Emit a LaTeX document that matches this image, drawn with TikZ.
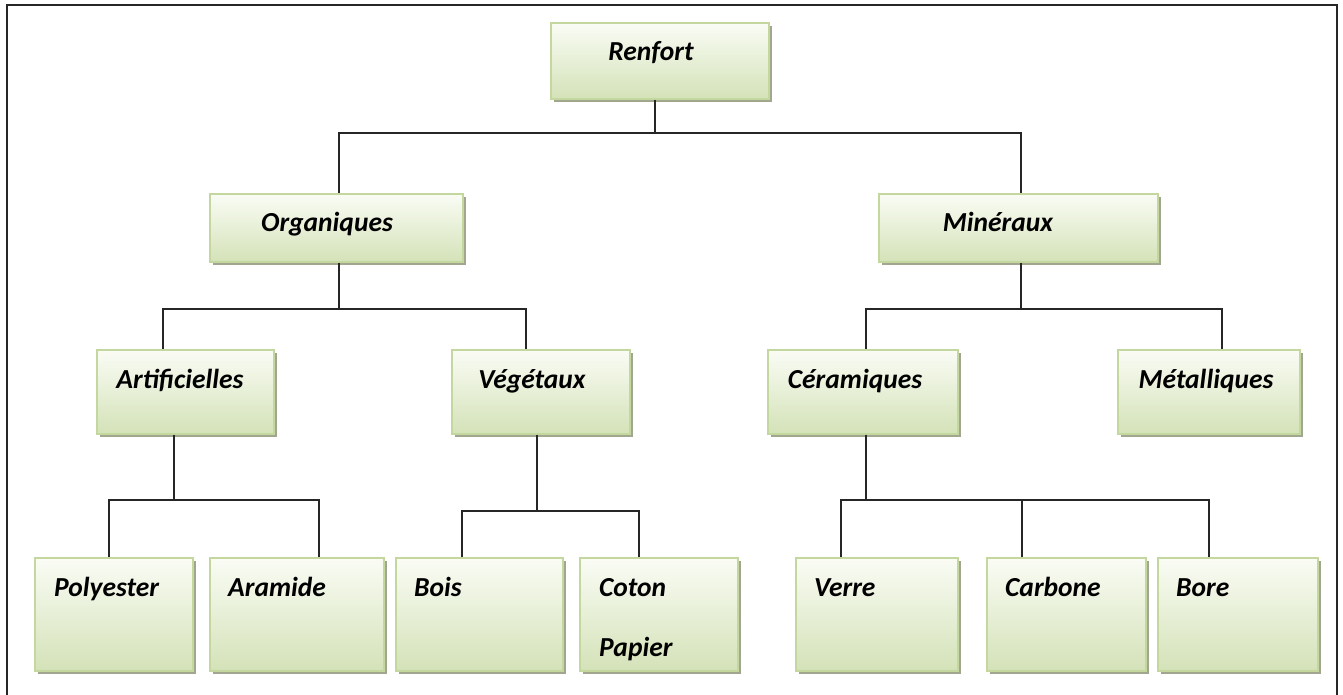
\documentclass[tikz,border=0pt]{standalone}
\usepackage{fontspec}
\setmainfont{Carlito}
\begin{document}
\definecolor{boxtop}{HTML}{FAFCF5}
\definecolor{boxbot}{HTML}{D4E2B8}
\definecolor{boxline}{HTML}{C4D79E}
\definecolor{boxshadow}{HTML}{A0A78E}
\tikzset{
  catbox/.style={draw=boxline, line width=1.6pt, top color=boxtop, bottom color=boxbot,
    minimum width=#1, inner sep=0pt, anchor=north west, rectangle},
  boxshade/.style={fill=boxshadow, draw=none},
  lbl/.style={font=\bfseries\itshape\fontsize{27.5}{30}\selectfont, inner sep=0pt, anchor=base west},
  lblc/.style={font=\bfseries\itshape\fontsize{27.5}{30}\selectfont, inner sep=0pt, anchor=base},
  link/.style={draw=black!85, line width=1.4pt},
}
\begin{tikzpicture}[x=1pt,y=-1pt]
\useasboundingbox (0,0) rectangle (1343,694);
% page frame
\draw[black!85, line width=1.6pt] (7,700) -- (7,5) -- (1337,5) -- (1337,700);

% box helper: shadow then box
\newcommand{\catbox}[5]{% name, x1, y1, x2, y2
  \fill[boxshade] (#2+4,#3+4) rectangle (#4+4,#5+4);
  \node[catbox={#4-#2}, minimum height={#5-#3}] (#1) at (#2,#3) {};
}

\catbox{renfort}{550}{22}{768}{98}
\catbox{organ}{209}{193}{462}{261}
\catbox{miner}{878}{193}{1157}{261}
\catbox{artif}{96}{349}{273}{433}
\catbox{veget}{451}{349}{629}{433}
\catbox{ceram}{767}{349}{957}{433}
\catbox{metal}{1117}{349}{1299}{433}
\catbox{poly}{34}{557}{192}{670}
\catbox{aram}{209}{557}{383}{670}
\catbox{bois}{395}{557}{562}{670}
\catbox{coton}{579}{557}{737}{670}
\catbox{verre}{795}{557}{957}{670}
\catbox{carb}{986}{557}{1145}{670}
\catbox{bore}{1157}{557}{1317}{670}

% labels
\node[lblc] (tRenfort) at (651,60) {Renfort};
\node[lblc] (tOrgan) at (327,231) {Organiques};
\node[lblc] (tMiner) at (998,231) {Minéraux};
\node[lblc] (tArtif) at (180,388) {Artificielles};
\node[lblc] (tVeget) at (532,388) {Végétaux};
\node[lblc] (tCeram) at (855,388) {Céramiques};
\node[lblc] (tMetal) at (1206,388) {Métalliques};
\node[lbl] (tPoly) at (54,596) {Polyester};
\node[lbl] (tAram) at (228,596) {Aramide};
\node[lbl] (tBois) at (414,596) {Bois};
\node[lbl] (tCoton) at (599,596) {Coton};
\node[lbl] (tPapier) at (599,656) {Papier};
\node[lbl] (tVerre) at (814,596) {Verre};
\node[lbl] (tCarb) at (1005,596) {Carbone};
\node[lbl] (tBore) at (1176,596) {Bore};

% junction points
\coordinate (j0) at (655,133);
\coordinate (j1) at (339,309);
\coordinate (j2) at (1021,309);
\coordinate (j3) at (174,500);
\coordinate (j4) at (537,511);
\coordinate (j5) at (866,500);

% connectors
\draw[link] (renfort.south -| j0) -- (j0);
\draw[link] (organ.north -| 339,0) |- (j0) -| (miner.north -| 1021,0);
\draw[link] (organ.south -| j1) -- (j1);
\draw[link] (artif.north -| 163,0) |- (j1) -| (veget.north -| 526,0);
\draw[link] (miner.south -| j2) -- (j2);
\draw[link] (ceram.north -| 866,0) |- (j2) -| (metal.north -| 1222,0);
\draw[link] (artif.south -| j3) -- (j3);
\draw[link] (poly.north -| 109,0) |- (j3) -| (aram.north -| 319,0);
\draw[link] (veget.south -| j4) -- (j4);
\draw[link] (bois.north -| 462,0) |- (j4) -| (coton.north -| 639,0);
\draw[link] (ceram.south -| j5) -- (j5);
\draw[link] (verre.north -| 841,0) |- (j5) -| (bore.north -| 1209,0);
\draw[link] (carb.north -| 1022,0) -- (1022,500);
\end{tikzpicture}
\end{document}
